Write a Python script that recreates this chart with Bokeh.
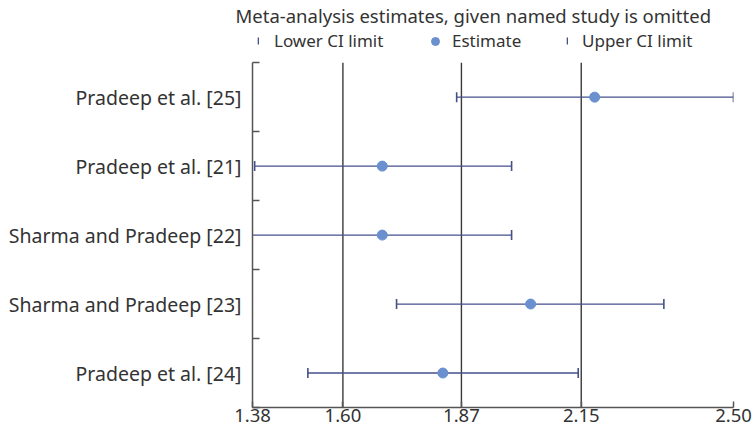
from bokeh.plotting import figure
from bokeh.models import (ColumnDataSource, FixedTicker, Range1d, Legend, LegendItem)
from bokeh.embed import file_html
from bokeh.resources import INLINE

# ---- data ----
studies = ["Pradeep et al. [25]", "Pradeep et al. [21]", "Sharma and Pradeep [22]",
           "Sharma and Pradeep [23]", "Pradeep et al. [24]"]
lower = [1.858, 1.391, 1.384, 1.719, 1.514]
estimate = [2.177, 1.686, 1.686, 2.029, 1.826]
upper = [2.498, 1.985, 1.985, 2.337, 2.139]
# combined estimate and CI (vertical reference lines)
combined = [1.595, 1.869, 2.146]
x_ticks = [1.386, 1.595, 1.869, 2.146, 2.498]
x_tick_labels = ["1.38", "1.60", "1.87", "2.15", "2.50"]

rows = list(range(1, len(studies) + 1))
y_top = rows[0] - 0.5
y_bot = rows[-1] + 0.5
src = ColumnDataSource(dict(y=rows, lo=lower, est=estimate, up=upper))
ref_src = ColumnDataSource(dict(x=combined, y0=[y_top] * len(combined),
                                y1=[y_bot] * len(combined)))

FONT = "Noto Sans"
TXT = "#333333"
BAR = "#44508c"
DOT = "#6a90d0"
AX = "#555555"

p = figure(width=754, height=434, output_backend="svg", toolbar_location=None,
           x_range=Range1d(x_ticks[0], x_ticks[-1]),
           y_range=Range1d(y_bot, y_top - 0.51),
           title="Meta-analysis estimates, given named study is omitted",
           min_border_left=252, min_border_right=21, min_border_top=20,
           min_border_bottom=27)
p.title.text_font = FONT
p.title.text_font_size = "18.5px"
p.title.text_font_style = "normal"
p.title.text_color = TXT
p.title.align = "left"
p.title.offset = -17
p.title.standoff = 0
p.outline_line_color = None
p.grid.visible = False
p.background_fill_color = "white"
p.border_fill_color = "white"

p.segment(x0="x", y0="y0", x1="x", y1="y1", source=ref_src,
          line_color="#3a3a3a", line_width=1.4)

p.segment(x0="lo", y0="y", x1="up", y1="y", source=src, line_color=BAR, line_width=1.3)
r_lo = p.rect(x="lo", y="y", width=1.6, height=10, width_units="screen",
              height_units="screen", source=src, fill_color=BAR, line_color=None)
r_up = p.rect(x="up", y="y", width=1.6, height=10, width_units="screen",
              height_units="screen", source=src, fill_color=BAR, line_color=None)
r_est = p.scatter(x="est", y="y", source=src, marker="circle", size=10,
                  fill_color=DOT, line_color=DOT)

# axes
xa = p.xaxis[0]
xa.ticker = FixedTicker(ticks=x_ticks)
xa.major_label_overrides = {t: l for t, l in zip(x_ticks, x_tick_labels)}
xa.major_tick_in = 6
xa.major_tick_out = 0
xa.minor_tick_line_color = None
xa.axis_line_color = AX
xa.axis_line_width = 1.5
xa.major_tick_line_color = AX
xa.major_tick_line_width = 1.5
xa.major_label_text_font = FONT
xa.major_label_text_font_size = "18.5px"
xa.major_label_text_color = TXT
xa.major_label_standoff = 1

ya = p.yaxis[0]
ya.bounds = (y_top, y_bot)
ya.ticker = FixedTicker(ticks=rows, minor_ticks=[r - 0.5 for r in rows] + [y_bot])
ya.major_label_overrides = {r: s for r, s in zip(rows, studies)}
ya.major_tick_in = 0
ya.major_tick_out = 0
ya.minor_tick_in = 7
ya.minor_tick_out = 0
ya.minor_tick_line_color = AX
ya.minor_tick_line_width = 1.5
ya.axis_line_color = AX
ya.axis_line_width = 1.5
ya.major_label_text_font = FONT
ya.major_label_text_font_size = "19.5px"
ya.major_label_text_color = TXT
ya.major_label_standoff = 11


def make_legend(label, renderer, x, gw, gh, standoff):
    return Legend(items=[LegendItem(label=label, renderers=[renderer])],
                  location=(x, 355), orientation="horizontal",
                  label_text_font=FONT, label_text_font_size="17px",
                  label_text_color=TXT, border_line_color=None,
                  background_fill_alpha=0, padding=0, margin=0,
                  glyph_width=gw, glyph_height=gh, label_standoff=standoff)


p.add_layout(make_legend("Lower CI limit", r_lo, 5, 2, 9, 15))
p.add_layout(make_legend("Estimate", r_est, 173, 20, 20, 7))
p.add_layout(make_legend("Upper CI limit", r_up, 314, 2, 9, 14))

open("out.html", "w").write(file_html(p, INLINE))
